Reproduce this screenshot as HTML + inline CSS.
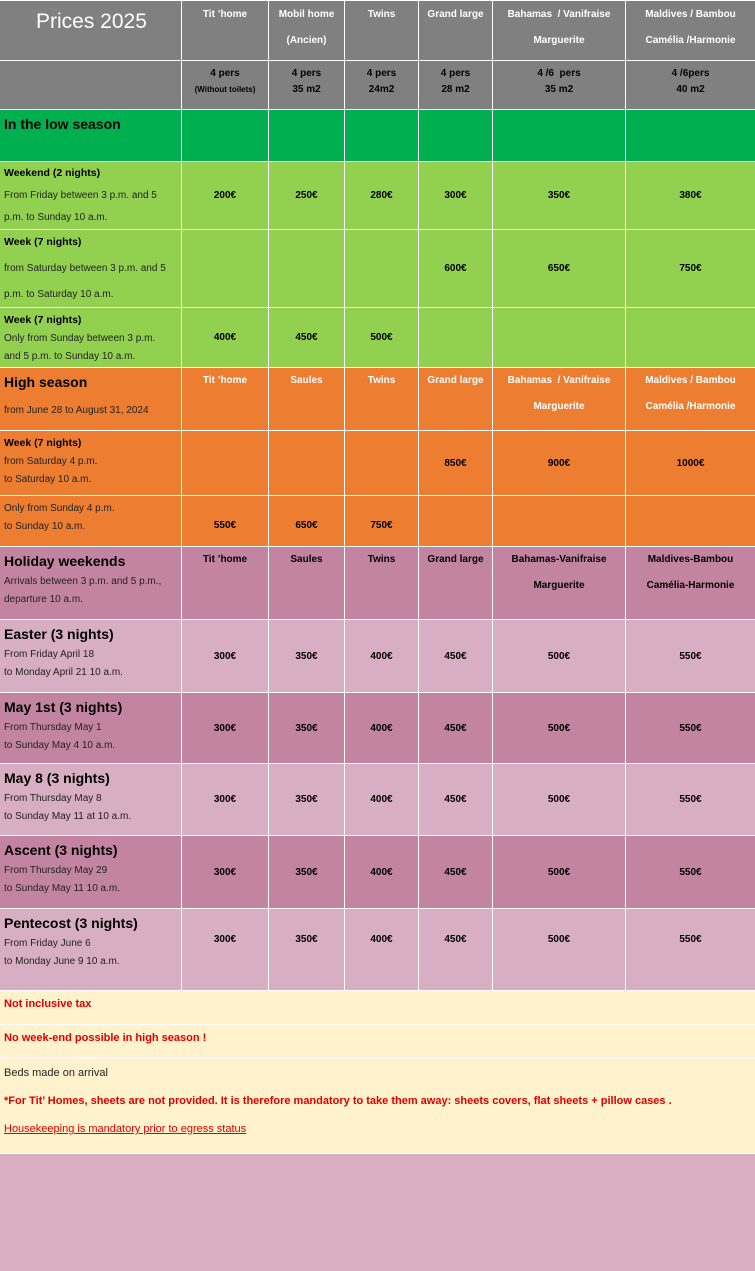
<!DOCTYPE html>
<html><head><meta charset="utf-8"><style>
body{margin:0;width:755px;height:1271px;position:relative;background:#fff;font-family:"Liberation Sans",sans-serif;overflow:hidden}
.r{position:absolute;left:0;width:755px;border-top:1px solid #fff;box-sizing:border-box}
.r>div{position:absolute;top:0;bottom:0;border-left:1px solid #fff;box-sizing:border-box;text-align:center;font-weight:bold;font-size:10px;color:#000;line-height:26px}
.r>.a{left:0;width:181px;border-left:none;text-align:left;padding-left:4px;font-weight:normal;line-height:18px;color:#222}
.b{left:181px;width:87px}.c{left:268px;width:76px}.d{left:344px;width:74px}.e{left:418px;width:74px}.f{left:492px;width:133px}.g{left:625px;width:130px}
.m{display:flex;align-items:center;justify-content:center}
.gray>div{color:#fff}
.w>div{color:#fff}
.t{font-size:14px;font-weight:bold;color:#000}
.s{font-weight:bold;font-size:10.5px;color:#000}
.n{position:absolute;left:0;width:755px;background:#fff2cc;border-top:1px solid #fff;box-sizing:border-box;padding-left:4px;font-size:11px}
</style></head><body>
<div class="r gray" style="top:0;height:61px;background:#808080">
<div class="a" style="color:#fff;font-size:21px;padding:8px 0 0 36px;line-height:26px">Prices 2025</div>
<div class="b" style="line-height:18px;padding-top:5px">Tit ’home</div>
<div class="c" style="line-height:26px;padding-top:1px">Mobil home<br>(Ancien)</div>
<div class="d" style="line-height:18px;padding-top:5px">Twins</div>
<div class="e" style="line-height:18px;padding-top:5px">Grand large</div>
<div class="f" style="line-height:26px;padding-top:1px">Bahamas &nbsp;/ Vanifraise<br>Marguerite</div>
<div class="g" style="line-height:26px;padding-top:1px">Maldives / Bambou<br>Camélia /Harmonie</div>
</div>
<div class="r" style="top:60px;height:50px;background:#808080">
<div class="a"></div>
<div class="b" style="line-height:16px;padding-top:5px">4 pers<br><span style="font-size:8px">(Without toilets)</span></div>
<div class="c" style="line-height:16px;padding-top:5px">4 pers<br>35 m2</div>
<div class="d" style="line-height:16px;padding-top:5px">4 pers<br>24m2</div>
<div class="e" style="line-height:16px;padding-top:5px">4 pers<br>28 m2</div>
<div class="f" style="line-height:16px;padding-top:5px">4 /6 &nbsp;pers<br>35 m2</div>
<div class="g" style="line-height:16px;padding-top:5px">4 /6pers<br>40 m2</div>
</div>
<div class="r" style="top:109px;height:53px;background:#00b050">
<div class="a"><div class="t" style="padding-top:5px">In the low season</div></div>
<div class="b"></div><div class="c"></div><div class="d"></div><div class="e"></div><div class="f"></div><div class="g"></div>
</div>
<div class="r" style="top:161px;height:69px;background:#92d050">
<div class="a" style="padding-top:2px"><span class="s">Weekend (2 nights)</span><br><span style="line-height:26px">From Friday between 3 p.m. and 5</span><br>p.m. to Sunday 10 a.m.</div>
<div class="b m">200€</div><div class="c m">250€</div><div class="d m">280€</div><div class="e m">300€</div><div class="f m">350€</div><div class="g m">380€</div>
</div>
<div class="r" style="top:229px;height:79px;background:#92d050">
<div class="a" style="padding-top:3px"><span class="s">Week (7 nights)</span><br><span style="line-height:34px">from Saturday between 3 p.m. and 5</span><br>p.m. to Saturday 10 a.m.</div>
<div class="b"></div><div class="c"></div><div class="d"></div><div class="e m">600€</div><div class="f m">650€</div><div class="g m">750€</div>
</div>
<div class="r" style="top:307px;height:61px;background:#92d050">
<div class="a" style="padding-top:3px"><span class="s">Week (7 nights)</span><br>Only from Sunday between 3 p.m.<br>and 5 p.m. to Sunday 10 a.m.</div>
<div class="b m">400€</div><div class="c m">450€</div><div class="d m">500€</div><div class="e"></div><div class="f"></div><div class="g"></div>
</div>
<div class="r w" style="top:367px;height:64px;background:#ed7d31">
<div class="a" style="padding-top:5px;color:#222"><span class="t">High season</span><br><span style="line-height:34px">from June 28 to August 31, 2024</span></div>
<div class="b">Tit ’home</div><div class="c">Saules</div><div class="d">Twins</div><div class="e">Grand large</div><div class="f">Bahamas &nbsp;/ Vanifraise<br>Marguerite</div><div class="g">Maldives / Bambou<br>Camélia /Harmonie</div>
</div>
<div class="r" style="top:430px;height:66px;background:#ed7d31">
<div class="a" style="padding-top:3px"><span class="s">Week (7 nights)</span><br>from Saturday 4 p.m.<br>to Saturday 10 a.m.</div>
<div class="b"></div><div class="c"></div><div class="d"></div><div class="e m">850€</div><div class="f m">900€</div><div class="g m">1000€</div>
</div>
<div class="r" style="top:495px;height:52px;background:#ed7d31">
<div class="a" style="padding-top:4px">Only from Sunday 4 p.m.<br>to Sunday 10 a.m.</div>
<div class="b" style="padding-top:17px">550€</div><div class="c" style="padding-top:17px">650€</div><div class="d" style="padding-top:17px">750€</div><div class="e"></div><div class="f"></div><div class="g"></div>
</div>
<div class="r" style="top:546px;height:74px;background:#c384a2">
<div class="a" style="padding-top:5px"><span class="t">Holiday weekends</span><br>Arrivals between 3 p.m. and 5 p.m.,<br>departure 10 a.m.</div>
<div class="b">Tit ’home</div><div class="c">Saules</div><div class="d">Twins</div><div class="e">Grand large</div><div class="f">Bahamas-Vanifraise<br>Marguerite</div><div class="g">Maldives-Bambou<br>Camélia-Harmonie</div>
</div>
<div class="r" style="top:619px;height:74px;background:#d8aec3">
<div class="a" style="padding-top:5px"><span class="t">Easter (3 nights)</span><br>From Friday April 18<br>to Monday April 21 10 a.m.</div>
<div class="b m">300€</div><div class="c m">350€</div><div class="d m">400€</div><div class="e m">450€</div><div class="f m">500€</div><div class="g m">550€</div>
</div>
<div class="r" style="top:692px;height:72px;background:#c384a2">
<div class="a" style="padding-top:5px"><span class="t">May 1st (3 nights)</span><br>From Thursday May 1<br>to Sunday May 4 10 a.m.</div>
<div class="b m">300€</div><div class="c m">350€</div><div class="d m">400€</div><div class="e m">450€</div><div class="f m">500€</div><div class="g m">550€</div>
</div>
<div class="r" style="top:763px;height:73px;background:#d8aec3">
<div class="a" style="padding-top:5px"><span class="t">May 8 (3 nights)</span><br>From Thursday May 8<br>to Sunday May 11 at 10 a.m.</div>
<div class="b m">300€</div><div class="c m">350€</div><div class="d m">400€</div><div class="e m">450€</div><div class="f m">500€</div><div class="g m">550€</div>
</div>
<div class="r" style="top:835px;height:74px;background:#c384a2">
<div class="a" style="padding-top:5px"><span class="t">Ascent (3 nights)</span><br>From Thursday May 29<br>to Sunday May 11 10 a.m.</div>
<div class="b m">300€</div><div class="c m">350€</div><div class="d m">400€</div><div class="e m">450€</div><div class="f m">500€</div><div class="g m">550€</div>
</div>
<div class="r" style="top:908px;height:83px;background:#d8aec3">
<div class="a" style="padding-top:5px"><span class="t">Pentecost (3 nights)</span><br>From Friday June 6<br>to Monday June 9 10 a.m.</div>
<div class="b m" style="padding-bottom:20px">300€</div><div class="c m" style="padding-bottom:20px">350€</div><div class="d m" style="padding-bottom:20px">400€</div><div class="e m" style="padding-bottom:20px">450€</div><div class="f m" style="padding-bottom:20px">500€</div><div class="g m" style="padding-bottom:20px">550€</div>
</div>
<div class="n" style="top:990px;height:35px;line-height:26px;color:#e00000;font-weight:bold">Not inclusive tax</div>
<div class="n" style="top:1024px;height:35px;line-height:26px;color:#e00000;font-weight:bold">No week-end possible in high season !</div>
<div class="n" style="top:1058px;height:96px;line-height:28px;color:#222">Beds made on arrival<br><span style="color:#e00000;font-weight:bold">*For Tit’ Homes, sheets are not provided. It is therefore mandatory to take them away: sheets covers, flat sheets + pillow cases .</span><br><span style="color:#e00000;text-decoration:underline">Housekeeping is mandatory prior to egress status</span></div>
<div style="position:absolute;left:0;top:1153px;width:755px;height:118px;background:#d8aec3;border-top:1px solid #fff;box-sizing:border-box"></div>
</body></html>
